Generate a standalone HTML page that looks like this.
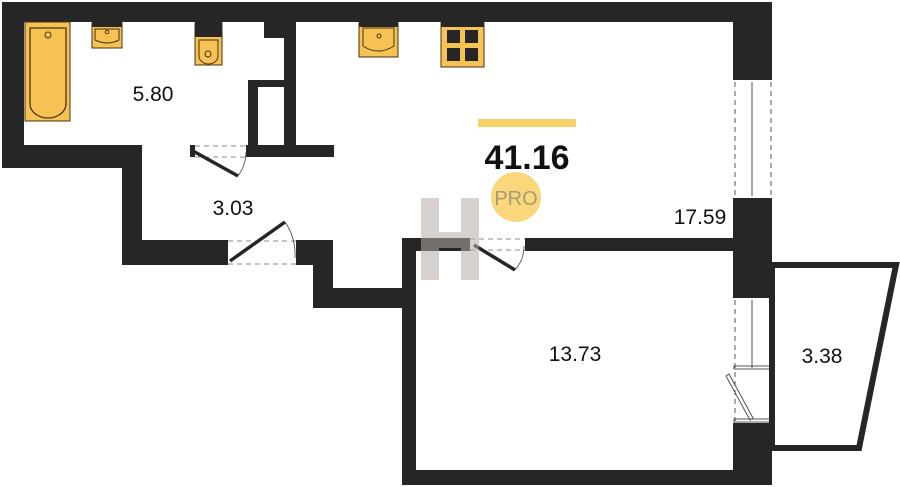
<!DOCTYPE html>
<html><head><style>
html,body{margin:0;padding:0;background:#fff;width:900px;height:487px;overflow:hidden}
svg{display:block}
text{font-family:"Liberation Sans",sans-serif;fill:#111}
</style></head><body>
<svg width="900" height="487" viewBox="0 0 900 487" xmlns="http://www.w3.org/2000/svg">
<g fill="#262626">
<!-- top wall -->
<rect x="2" y="2" width="770" height="20"/>
<!-- left outer -->
<rect x="2" y="2" width="22" height="166"/>
<rect x="2" y="145" width="140" height="23"/>
<!-- bathroom bottom right part -->
<rect x="190" y="145" width="5" height="12"/>
<rect x="246" y="145" width="88" height="12"/>
<!-- partitions -->
<rect x="248" y="80" width="10" height="70"/>
<rect x="248" y="80" width="40" height="7"/>
<rect x="284" y="2" width="12" height="150"/>
<rect x="264" y="22" width="20" height="16"/>
<!-- corridor -->
<rect x="122" y="145" width="20" height="120"/>
<rect x="122" y="240" width="106" height="25"/>
<rect x="296" y="240" width="36" height="25"/>
<rect x="313" y="240" width="20" height="68"/>
<rect x="313" y="288" width="92" height="20"/>
<!-- bedroom -->
<rect x="402" y="238" width="14" height="247"/>
<rect x="402" y="238" width="68" height="13"/>
<rect x="525" y="238" width="210" height="13"/>
<rect x="402" y="470" width="370" height="15"/>
<!-- right wall -->
<rect x="733" y="2" width="39" height="78"/>
<rect x="733" y="198" width="39" height="100"/>
<rect x="733" y="423" width="39" height="62"/>
</g>
<!-- windows -->
<g stroke="#555" stroke-width="1" fill="none">
<line x1="735" y1="82" x2="735" y2="196" stroke-dasharray="5,4"/>
<line x1="771" y1="82" x2="771" y2="196" stroke-dasharray="5,4"/>
<line x1="752" y1="82" x2="752" y2="196"/>
<line x1="735" y1="300" x2="735" y2="421" stroke-dasharray="5,4"/>
<line x1="771" y1="300" x2="771" y2="421" stroke-dasharray="5,4"/>
<line x1="752" y1="300" x2="752" y2="368"/>
<rect x="734" y="366" width="38" height="3"/>
<rect x="734" y="419" width="38" height="3"/>
<polygon points="726,376 729,374 753,418 750,420"/>
</g>
<!-- balcony -->
<polygon points="772,265 896,265 859,448 772,448" fill="none" stroke="#262626" stroke-width="6"/>
<!-- door frames dashed -->
<g stroke="#888" stroke-width="1" stroke-dasharray="5,4" fill="none">
<line x1="195" y1="146" x2="246" y2="146"/><line x1="195" y1="157" x2="246" y2="157"/>
<line x1="228" y1="241" x2="296" y2="241"/><line x1="228" y1="264" x2="296" y2="264"/>
<line x1="470" y1="239" x2="525" y2="239"/><line x1="470" y1="250" x2="525" y2="250"/>
</g>
<g stroke="#262626" stroke-width="3.5">
<line x1="193" y1="151" x2="238" y2="176"/>
<line x1="230" y1="261" x2="285" y2="222"/>
<line x1="474" y1="245" x2="515" y2="270"/>
</g>
<g stroke="#444" stroke-width="0.8" fill="none">
<path d="M238 176 Q246 165 246 152"/>
<path d="M285 222 Q296 238 295 258"/>
<path d="M515 270 Q524 260 524 246"/>
</g>
<!-- fixtures -->
<g fill="#f6c254" stroke="#4a3312" stroke-width="1">
<rect x="25" y="22" width="45" height="99"/>
<path d="M30 28 H66 V104 A18 14 0 0 1 30 104 Z" fill="none" stroke-width="1.3"/>
<circle cx="48" cy="35" r="3" fill="none"/>
<rect x="92" y="23" width="30" height="25"/>
<path d="M95 29 H119 V40 Q107 46 95 40 Z" fill="none"/>
<circle cx="107" cy="32" r="1.8" fill="none"/>
<rect x="195" y="23" width="27" height="42"/>
<path d="M199 40 H218 V56 A9.5 8 0 0 1 199 56 Z" fill="none"/>
<circle cx="208" cy="54" r="3" fill="none"/>
<rect x="359" y="23" width="39" height="34"/>
<path d="M363 28 H394 V46 Q378 56 363 46 Z" fill="none"/>
<circle cx="379" cy="36" r="2" fill="none"/>
<rect x="441" y="23" width="43" height="44"/>
</g>
<rect x="195" y="22" width="27" height="15" fill="#262626"/>
<rect x="92" y="22" width="30" height="5" fill="#262626"/>
<rect x="359" y="22" width="39" height="5" fill="#262626"/>
<rect x="441" y="22" width="43" height="5" fill="#262626"/>
<g fill="#262626">
<rect x="447" y="30" width="13" height="13"/><rect x="465" y="30" width="13" height="13"/>
<rect x="447" y="48" width="13" height="13"/><rect x="465" y="48" width="13" height="13"/>
</g>
<!-- watermark -->
<g fill="#b5aca3" opacity="0.55">
<rect x="421" y="198" width="18" height="82"/>
<rect x="461" y="198" width="18" height="82"/>
<rect x="439" y="232" width="22" height="16"/>
</g>
<!-- labels -->
<rect x="478" y="119" width="98" height="8" fill="#f6cf6a"/>
<text x="527" y="169" font-size="34" font-weight="bold" text-anchor="middle">41.16</text>
<circle cx="516" cy="197" r="25" fill="#fbd77c"/>
<text x="516" y="205" font-size="20" text-anchor="middle" style="fill:#a89a78">PRO</text>
<text x="153" y="101" font-size="21" text-anchor="middle">5.80</text>
<text x="233" y="215" font-size="21" text-anchor="middle">3.03</text>
<text x="700" y="224" font-size="21" text-anchor="middle">17.59</text>
<text x="575" y="361" font-size="21" text-anchor="middle">13.73</text>
<text x="822" y="363" font-size="21" text-anchor="middle">3.38</text>
</svg>
</body></html>
